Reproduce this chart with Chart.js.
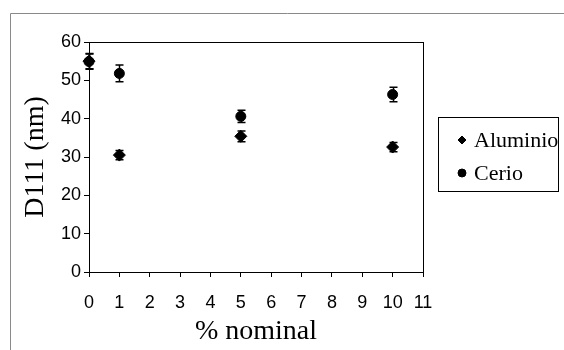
<!DOCTYPE html>
<html>
<head>
<meta charset="utf-8">
<script src="https://cdn.jsdelivr.net/npm/chart.js@4/dist/chart.umd.min.js"></script>
<style>
  body { margin: 0; background: #fff; }
  #wrap { width: 564px; height: 350px; }
</style>
</head>
<body>
<div id="wrap"><canvas id="myChart" width="564" height="350"></canvas></div>
<script>
// datos
const nominal = [0, 1, 5, 10];
const aluminio = [55, 30.5, 35.4, 32.6];
const aluminioErr = [2, 1.2, 1.4, 1.2];
const cerio = [54.9, 51.8, 40.6, 46.3];
const cerioErr = [2, 2.2, 1.6, 1.9];
const xTicks = [0, 1, 2, 3, 4, 5, 6, 7, 8, 9, 10, 11];
const yTicks = [0, 10, 20, 30, 40, 50, 60];

const sans = "'Liberation Sans', Arial, sans-serif";
const serif = "'Liberation Serif', 'Times New Roman', serif";

function puntos(xs, ys) {
    return xs.map((x, i) => ({ x: x, y: ys[i] }));
}

// marco exterior, borde del area y barras de error
const decoracion = {
    id: "decoracion",
    beforeDraw(chart) {
        const ctx = chart.ctx;
        ctx.save();
        ctx.strokeStyle = "#8a8a8a";
        ctx.lineWidth = 1;
        ctx.beginPath();
        ctx.moveTo(10.5, 350);
        ctx.lineTo(10.5, 13.5);
        ctx.lineTo(564, 13.5);
        ctx.stroke();
        ctx.restore();
    },
    beforeDatasetsDraw(chart) {
        const ctx = chart.ctx;
        const a = chart.chartArea;
        const xs = chart.scales.x, ys = chart.scales.y;
        ctx.save();
        ctx.strokeStyle = "#000";
        ctx.lineWidth = 1;
        ctx.strokeRect(Math.round(a.left) + 0.5, Math.round(a.top) + 0.5, Math.round(a.right - a.left), Math.round(a.bottom - a.top));
        chart.data.datasets.forEach((ds) => {
            ds.data.forEach((p, i) => {
                const e = ds.errores[i];
                const px = Math.round(xs.getPixelForValue(p.x)) + 0.5;
                const top = ys.getPixelForValue(p.y + e);
                const bot = ys.getPixelForValue(p.y - e);
                ctx.lineWidth = 1.5;
                ctx.beginPath();
                ctx.moveTo(px, top);
                ctx.lineTo(px, bot);
                ctx.moveTo(px - 4, top);
                ctx.lineTo(px + 4, top);
                ctx.moveTo(px - 4, bot);
                ctx.lineTo(px + 4, bot);
                ctx.stroke();
            });
        });
        ctx.restore();
    },
    afterDraw(chart) {
        // leyenda con recuadro
        const ctx = chart.ctx;
        ctx.save();
        ctx.strokeStyle = "#000";
        ctx.lineWidth = 1;
        ctx.strokeRect(438.5, 117.5, 120, 74);
        ctx.font = "22px " + serif;
        ctx.textBaseline = "middle";
        ctx.fillStyle = "#000";
        chart.data.datasets.forEach((ds, i) => {
            const y = 140 + i * 33;
            Chart.helpers.drawPoint(ctx, { pointStyle: ds.pointStyle, radius: 4, borderWidth: 1 }, 462, y);
            ctx.fillStyle = "#000";
            ctx.fillText(ds.label, 474, y + 1);
        });
        ctx.restore();
    }
};

const config = {
    type: "scatter",
    data: {
        datasets: [
            {
                label: "Aluminio",
                data: puntos(nominal, aluminio),
                errores: aluminioErr,
                pointStyle: "rectRot",
                pointRadius: 6,
                backgroundColor: "#000",
                borderColor: "#000",
                borderWidth: 1,
            },
            {
                label: "Cerio",
                data: puntos(nominal, cerio),
                errores: cerioErr,
                pointStyle: "circle",
                pointRadius: 5,
                backgroundColor: "#000",
                borderColor: "#000",
                borderWidth: 1,
            },
        ],
    },
    options: {
        responsive: false,
        animation: false,
        clip: false,
        layout: { padding: { top: 42, right: 141, left: 19, bottom: 2 } },
        plugins: { legend: { display: false }, tooltip: { enabled: false } },
        scales: {
            x: {
                type: "linear",
                min: 0,
                max: 11,
                afterBuildTicks: (s) => { s.ticks = xTicks.map((v) => ({ value: v })); },
                afterFit: (s) => { s.height = 76; },
                border: { color: "#000", width: 1 },
                grid: { drawOnChartArea: false, drawTicks: true, tickLength: 5, color: "#000" },
                ticks: { color: "#000", font: { family: sans, size: 18 }, padding: 15, maxRotation: 0 },
                title: { display: true, text: "% nominal", color: "#000", font: { family: serif, size: 28 }, padding: 0 },
            },
            y: {
                min: 0,
                max: 60,
                afterBuildTicks: (s) => { s.ticks = yTicks.map((v) => ({ value: v })); },
                afterFit: (s) => { s.width = 70; },
                border: { color: "#000", width: 1 },
                grid: { drawOnChartArea: false, drawTicks: true, tickLength: 5, color: "#000" },
                ticks: { color: "#000", font: { family: sans, size: 18 }, padding: 3 },
                title: { display: true, text: "D111 (nm)", color: "#000", font: { family: serif, size: 28 }, padding: 0 },
            },
        },
    },
    plugins: [decoracion],
};

const graphic = document.getElementById("myChart").getContext("2d");
window.graphic = new Chart(graphic, config);
</script>
</body>
</html>
